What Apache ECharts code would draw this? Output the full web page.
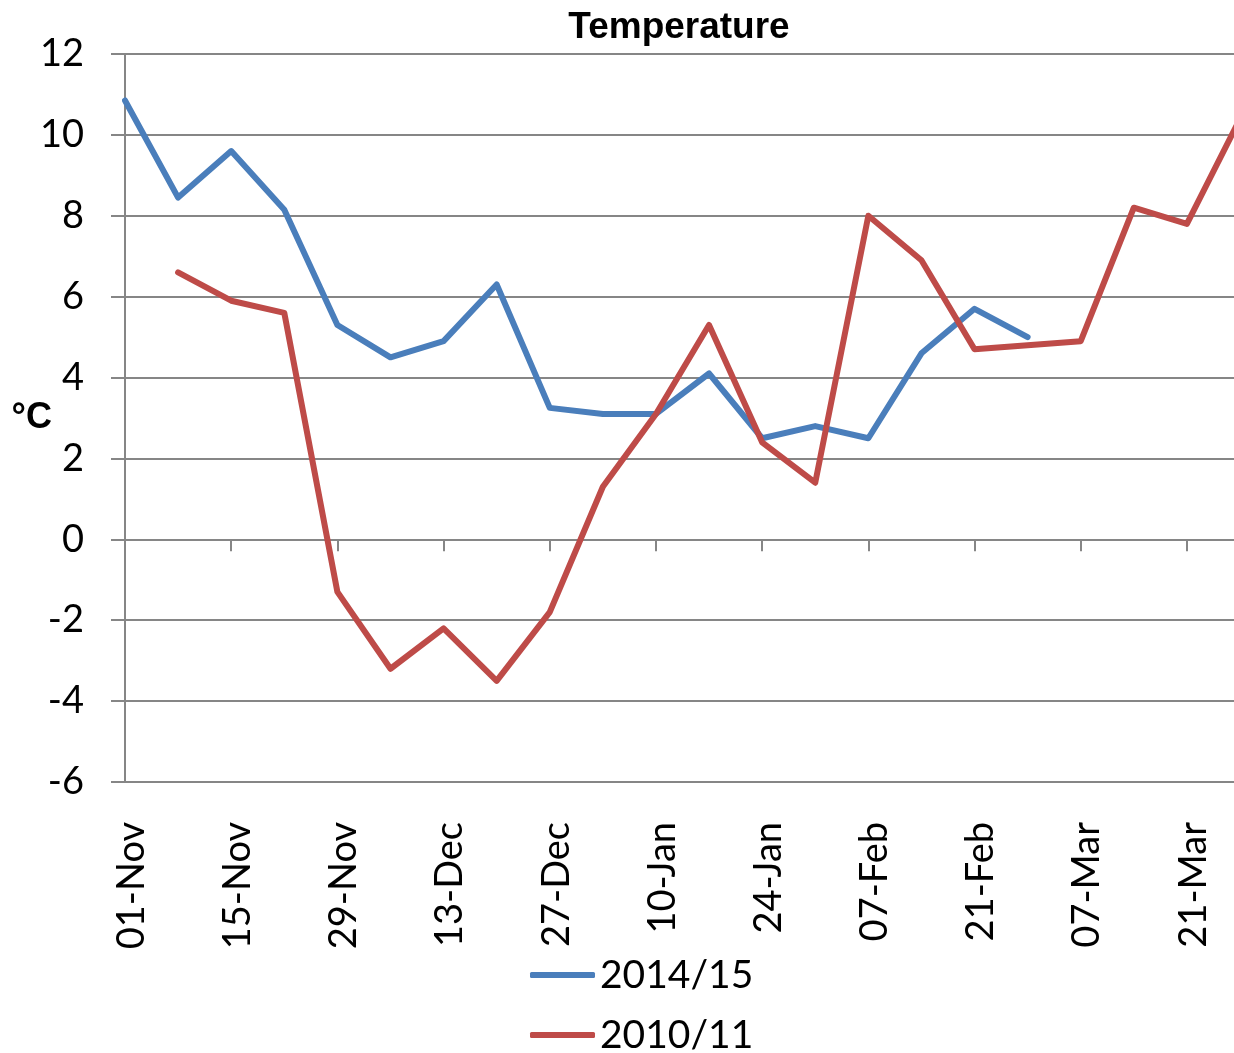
<!DOCTYPE html>
<html>
<head>
<meta charset="utf-8">
<script src="https://cdn.jsdelivr.net/npm/echarts@6/dist/echarts.min.js"></script>
<style>html,body{margin:0;padding:0;background:#fff}#c{width:1234px;height:1053px}</style>
</head>
<body>
<div id="c"></div>
<script>
const categories = ['01-Nov','08-Nov','15-Nov','22-Nov','29-Nov','06-Dec','13-Dec','20-Dec','27-Dec','03-Jan','10-Jan','17-Jan','24-Jan','31-Jan','07-Feb','14-Feb','21-Feb','28-Feb','07-Mar','14-Mar','21-Mar','28-Mar'];
const season2014 = [10.85, 8.45, 9.6, 8.15, 5.3, 4.5, 4.9, 6.3, 3.25, 3.1, 3.1, 4.1, 2.5, 2.8, 2.5, 4.6, 5.7, 5.0, null, null, null, null];
const season2010 = [null, 6.6, 5.9, 5.6, -1.3, -3.2, -2.2, -3.5, -1.8, 1.3, 3.1, 5.3, 2.4, 1.4, 8.0, 6.9, 4.7, 4.8, 4.9, 8.2, 7.8, 10.4];
const seriesNames = ['2014/15', '2010/11'];
const yTicks = {min: -6, max: 12, interval: 2};

const gray = '#868686';
const chart = echarts.init(document.getElementById('c'));
chart.setOption({
  animation: false,
  title: {
    text: 'Temperature', left: 674, top: 4, textAlign: 'center',
    textStyle: {fontFamily: 'Liberation Sans', fontWeight: 'bold', fontSize: 37, color: '#000'}
  },
  legend: {
    data: seriesNames, orient: 'vertical', left: 530, top: 955, height: 100, padding: 0,
    icon: 'roundRect', itemWidth: 65, itemHeight: 6, itemGap: 20,
    textStyle: {fontFamily: 'Lato', fontSize: 39, color: '#000', lineHeight: 40}
  },
  grid: {left: 125, top: 54, bottom: 271, right: -6, containLabel: false, outerBoundsMode: 'none'},
  xAxis: [
    {
      type: 'category', data: categories, boundaryGap: false, position: 'bottom',
      axisLine: {show: true, onZero: true, lineStyle: {color: gray, width: 2}},
      axisTick: {show: true, interval: 1, length: 12, lineStyle: {color: gray, width: 2}},
      axisLabel: {show: false}, splitLine: {show: false}
    },
    {
      type: 'category', data: categories, boundaryGap: false, position: 'bottom',
      axisLine: {show: false, onZero: false},
      axisTick: {show: false},
      axisLabel: {show: true, interval: 1, rotate: 90, margin: 40, verticalAlign: 'top', lineHeight: 13,
        fontFamily: 'Lato', fontSize: 38, color: '#000'},
      splitLine: {show: false}
    }
  ],
  yAxis: {
    type: 'value', min: yTicks.min, max: yTicks.max, interval: yTicks.interval,
    name: '°C', nameLocation: 'middle', nameRotate: 0, nameGap: 73, nameMoveOverlap: false,
    nameTextStyle: {fontFamily: 'Liberation Sans', fontWeight: 'bold', fontSize: 36, color: '#000'},
    axisLine: {show: true, lineStyle: {color: gray, width: 2}},
    axisTick: {show: true, length: 14, lineStyle: {color: gray, width: 2}},
    axisLabel: {margin: 41, fontFamily: 'Lato', fontSize: 38, color: '#000'},
    splitLine: {show: true, lineStyle: {color: gray, width: 2}}
  },
  series: [
    {name: seriesNames[0], type: 'line', data: season2014, xAxisIndex: 0, symbol: 'none',
      color: '#4a7ebb', lineStyle: {width: 6, color: '#4a7ebb', cap: 'round', join: 'round'}},
    {name: seriesNames[1], type: 'line', data: season2010, xAxisIndex: 0, symbol: 'none',
      color: '#be4b48', lineStyle: {width: 6, color: '#be4b48', cap: 'round', join: 'round'}}
  ]
});
</script>
</body>
</html>
